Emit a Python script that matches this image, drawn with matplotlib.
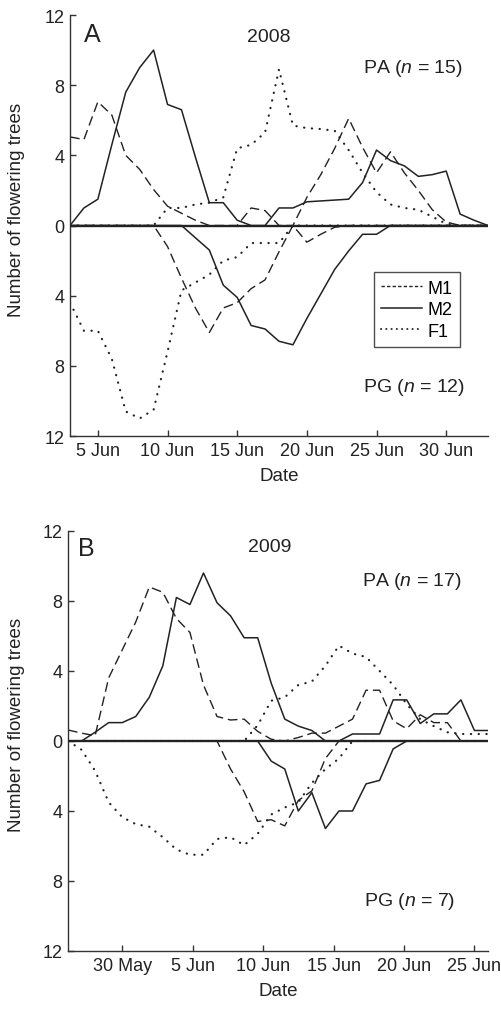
import numpy as np
import matplotlib; matplotlib.use('Agg')
import matplotlib.pyplot as plt
from matplotlib.lines import Line2D
from matplotlib.ticker import FuncFormatter

plt.rcParams['font.family'] = ['Liberation Sans', 'DejaVu Sans']
plt.rcParams['mathtext.fontset'] = 'custom'
plt.rcParams['mathtext.it'] = 'Liberation Sans:italic'
plt.rcParams['mathtext.rm'] = 'Liberation Sans'

INK = "#222222"

# ---- 2008: daily counts, 3 Jun .. 3 Jul (June day numbers) ----
days_2008 = list(range(3, 34))
ticks_2008 = [5, 10, 15, 20, 25, 30]
ticklabels_2008 = ["5 Jun", "10 Jun", "15 Jun", "20 Jun", "25 Jun", "30 Jun"]

pa08_m1 = [5.05, 4.9, 7.05, 6.3, 4.0, 3.2, 2.05, 1.1, 0.7, 0.3, 0, 0, 0, 1.0, 0.85, 0,
           0, 1.6, 2.9, 4.4, 6.1, 4.45, 3.0, 4.2, 3.0, 2.0, 0.9, 0.2, 0, 0, 0]
pa08_m2 = [0, 1.0, 1.5, 4.6, 7.6, 9.0, 10.0, 6.9, 6.6, 3.9, 1.3, 1.3, 0.3, 0, 0, 1.0,
           1.0, 1.35, 1.4, 1.45, 1.5, 2.45, 4.3, 3.7, 3.4, 2.8, 2.9, 3.1, 0.65, 0.3, 0]
pa08_f1 = [0, 0, 0, 0, 0, 0, 0, 1.0, 1.0, 1.2, 1.3, 1.6, 4.4, 4.6, 5.3, 8.9,
           5.7, 5.55, 5.5, 5.4, 4.3, 3.0, 1.9, 1.2, 1.0, 0.9, 0.5, 0.1, 0, 0, 0]
pg08_m1 = [0, 0, 0, 0, 0, 0, 0, 1.2, 3.0, 4.7, 6.1, 4.7, 4.4, 3.6, 3.1, 1.5,
           0, 0.95, 0.5, 0.1, 0, 0, 0, 0, 0, 0, 0, 0, 0, 0, 0]
pg08_m2 = [0, 0, 0, 0, 0, 0, 0, 0, 0, 0.7, 1.4, 3.4, 4.1, 5.7, 5.9, 6.6,
           6.8, 5.3, 3.9, 2.5, 1.45, 0.5, 0.5, 0, 0, 0, 0, 0, 0, 0, 0]
pg08_f1 = [4.4, 6.0, 6.0, 7.6, 10.6, 11.0, 10.5, 7.2, 3.7, 3.25, 2.8, 2.0, 1.8, 1.0, 1.0, 1.0,
           0, 0, 0, 0, 0, 0, 0, 0, 0, 0, 0, 0, 0, 0, 0]

# ---- 2009: daily counts, 26 May .. 26 Jun (day index, 26 May = 0) ----
days_2009 = list(range(0, 32))
ticklabels_2009 = ["30 May", "5 Jun", "10 Jun", "15 Jun", "20 Jun", "25 Jun"]

pa09_m1 = [0.63, 0.45, 0.3, 3.6, 5.2, 6.8, 8.8, 8.5, 7.0, 6.2, 3.2, 1.4, 1.2, 1.25, 0.55, 0.1,
           0, 0.2, 0.45, 0.45, 0.85, 1.25, 2.9, 2.9, 1.15, 0.7, 1.5, 1.05, 1.05, 0, 0, 0]
pa09_m2 = [0, 0, 0.5, 1.05, 1.05, 1.4, 2.5, 4.3, 8.2, 7.8, 9.6, 7.9, 7.15, 5.9, 5.9, 3.3,
           1.25, 0.85, 0.6, 0, 0, 0.4, 0.4, 0.4, 2.35, 2.35, 1.0, 1.55, 1.55, 2.35, 0.6, 0.6]
pa09_f1 = [0, 0, 0, 0, 0, 0, 0, 0, 0, 0, 0, 0, 0, 0, 0.9, 2.3,
           2.5, 3.2, 3.4, 4.3, 5.45, 5.0, 4.8, 4.0, 3.2, 2.1, 1.25, 0.85, 0.5, 0.4, 0.4, 0.4]
pg09_m1 = [0, 0, 0, 0, 0, 0, 0, 0, 0, 0, 0, 0, 1.6, 2.9, 4.6, 4.5,
           4.85, 3.4, 2.85, 1.0, 0, 0, 0, 0, 0, 0, 0, 0, 0, 0, 0, 0]
pg09_m2 = [0, 0, 0, 0, 0, 0, 0, 0, 0, 0, 0, 0, 0, 0, 0, 1.15,
           1.6, 4.0, 2.95, 5.0, 4.0, 4.0, 2.45, 2.25, 0.45, 0, 0, 0, 0, 0, 0, 0]
pg09_f1 = [0, 0.5, 1.7, 3.5, 4.35, 4.75, 4.9, 5.5, 6.2, 6.5, 6.5, 5.6, 5.5, 5.95, 5.3, 4.2,
           3.8, 3.5, 2.4, 1.6, 1.0, 0, 0, 0, 0, 0, 0, 0, 0, 0, 0, 0]

STYLES = {
    "M1": dict(ls=(0, (7, 3.5)), lw=1.0),
    "M2": dict(ls="-", lw=1.1),
    "F1": dict(ls=(0, (0.1, 3.4)), lw=1.6, dash_capstyle="round"),
}

fig = plt.figure(figsize=(5.02, 10.12), dpi=100)
axA = fig.add_axes([70 / 502, 1 - 437 / 1012, 418 / 502, 421 / 1012])
axB = fig.add_axes([68 / 502, 1 - 952 / 1012, 420 / 502, 420 / 1012])


def draw(ax, x, pa, pg):
    for name in ("M1", "M2", "F1"):
        ax.plot(x, pa[name], color=INK, **STYLES[name])
        ax.plot(x, -np.asarray(pg[name]), color=INK, **STYLES[name])
    ax.axhline(0, color=INK, lw=1.7, zorder=3)
    ax.set_ylim(-12, 12)
    ax.set_yticks([12, 8, 4, 0, -4, -8, -12])
    ax.yaxis.set_major_formatter(FuncFormatter(lambda v, p: f"{abs(v):.0f}"))
    for s in ("top", "right"):
        ax.spines[s].set_visible(False)
    for s in ("left", "bottom"):
        ax.spines[s].set_color("#333333")
        ax.spines[s].set_linewidth(1.0)
    ax.tick_params(direction="in", length=4, width=1.0, color="#333333",
                   labelsize=13, labelcolor=INK, pad=4)
    ax.set_xlabel("Date", fontsize=13.5, color=INK, labelpad=6)
    ax.set_ylabel("Number of flowering trees", fontsize=13.5, color=INK)
    # right edge of the rotated label sits ~25 px from the figure edge
    ax.yaxis.set_label_coords(-45 / 418, 0.54)


draw(axA, days_2008,
     {"M1": pa08_m1, "M2": pa08_m2, "F1": pa08_f1},
     {"M1": pg08_m1, "M2": pg08_m2, "F1": pg08_f1})
axA.set_xlim(3, 33)
axA.set_xticks(ticks_2008)
axA.set_xticklabels(ticklabels_2008)
axA.text(4.6, 10.9, "A", fontsize=18, ha="center", va="center", color=INK)
axA.text(17.3, 10.8, "2008", fontsize=14, ha="center", va="center", color=INK)
axA.text(27.6, 9.0, r"PA ($\it{n}$ = 15)", fontsize=14, ha="center", va="center", color=INK)
axA.text(27.7, -9.2, r"PG ($\it{n}$ = 12)", fontsize=14, ha="center", va="center", color=INK)

handles = [
    Line2D([], [], color=INK, lw=1.0, ls=(0, (2.4, 1.6))),
    Line2D([], [], color=INK, lw=1.1, ls="-"),
    Line2D([], [], color=INK, lw=1.4, ls=(0, (0.1, 2.6)), dash_capstyle="round"),
]
leg = axA.legend(handles, ["M1", "M2", "F1"], loc="center", bbox_to_anchor=(0.83, 0.30),
                 fontsize=13, frameon=True, fancybox=False, handlelength=2.3,
                 handletextpad=0.3, borderpad=0.4, labelspacing=0.25)
leg.get_frame().set_edgecolor(INK)
leg.get_frame().set_linewidth(1.0)

draw(axB, days_2009,
     {"M1": pa09_m1, "M2": pa09_m2, "F1": pa09_f1},
     {"M1": pg09_m1, "M2": pg09_m2, "F1": pg09_f1})
axB.set_xlim(0, 31)
axB.set_xticks(np.linspace(4, 30, len(ticklabels_2009)))
axB.set_xticklabels(ticklabels_2009)
axB.yaxis.set_label_coords(-43 / 420, 0.54)
axB.text(1.38, 11.0, "B", fontsize=18, ha="center", va="center", color=INK)
axB.text(14.9, 11.1, "2009", fontsize=14, ha="center", va="center", color=INK)
axB.text(25.4, 9.15, r"PA ($\it{n}$ = 17)", fontsize=14, ha="center", va="center", color=INK)
axB.text(25.2, -9.1, r"PG ($\it{n}$ = 7)", fontsize=14, ha="center", va="center", color=INK)

plt.savefig("out.png", dpi=100)
plt.close()
